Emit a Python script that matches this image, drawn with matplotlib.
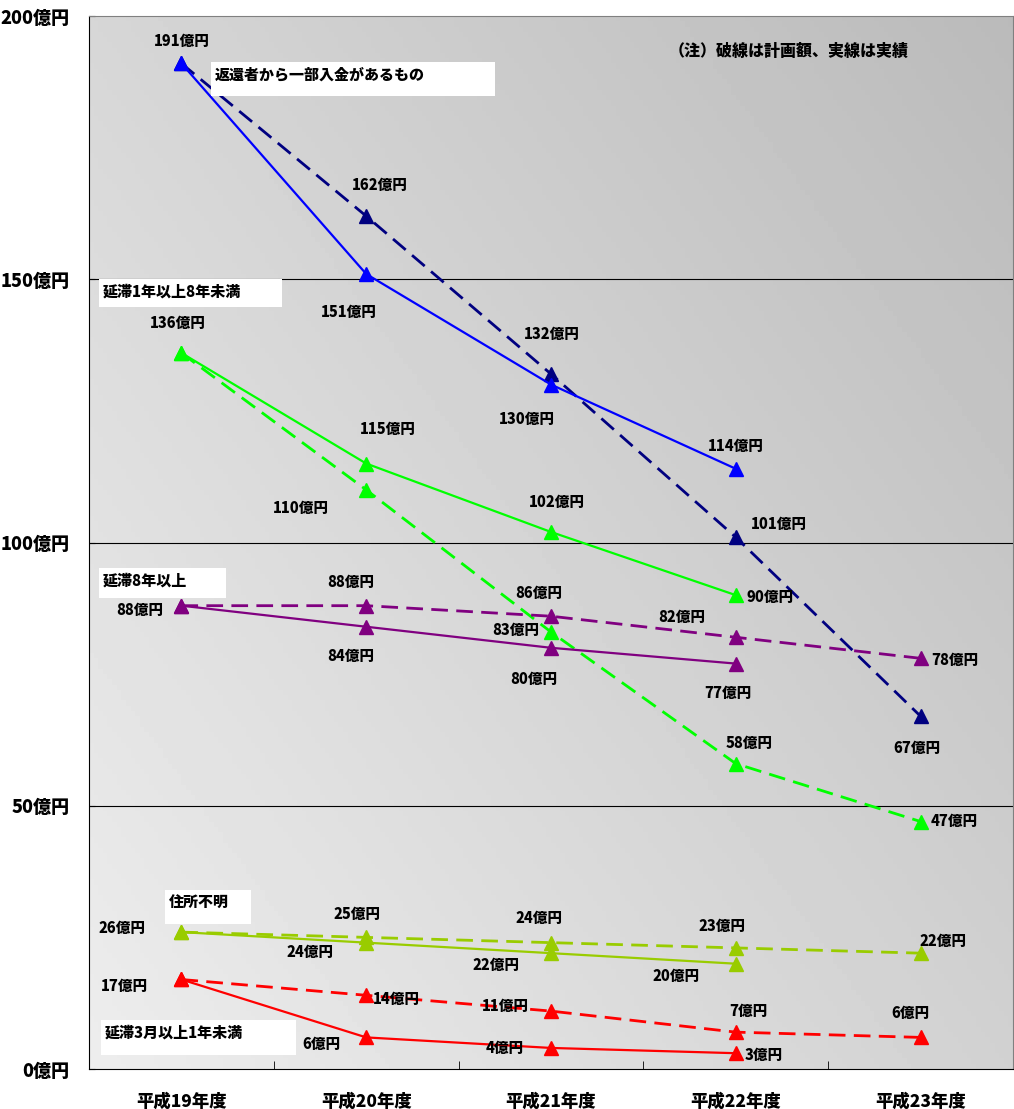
import numpy as np
import matplotlib
matplotlib.use("Agg")
import matplotlib.pyplot as plt
from matplotlib.patches import Rectangle

plt.rcParams['font.family'] = ['Noto Sans CJK JP', 'DejaVu Sans']

years = ["平成19年度", "平成20年度", "平成21年度", "平成22年度", "平成23年度"]

# 返還者から一部入金があるもの
part_plan = [191, 162, 132, 101, 67]
part_act = [191, 151, 130, 114]
# 延滞1年以上8年未満
y1_8_plan = [136, 110, 83, 58, 47]
y1_8_act = [136, 115, 102, 90]
# 延滞8年以上
y8_plan = [88, 88, 86, 82, 78]
y8_act = [88, 84, 80, 77]
# 住所不明
addr_plan = [26, 25, 24, 23, 22]
addr_act = [26, 24, 22, 20]
# 延滞3月以上1年未満
m3_plan = [17, 14, 11, 7, 6]
m3_act = [17, 6, 4, 3]

fig = plt.figure(figsize=(10.14, 11.09), dpi=100)
ax = fig.add_axes([89/1014, 1-1069/1109, 924/1014, 1053/1109])

# gradient background: light bottom-left -> dark top-right
gx, gy = np.meshgrid(np.linspace(0, 1, 200), np.linspace(0, 1, 200))
grad = 0.93 - 0.11 * gx - 0.09 * gy
ax.imshow(grad, extent=[-0.5, 4.5, 0, 200], origin="lower", cmap="gray",
          vmin=0, vmax=1, aspect="auto", zorder=0)

ax.set_xlim(-0.5, 4.5)
ax.set_ylim(0, 200)
for yv in [50, 100, 150]:
    ax.axhline(yv, color="black", lw=0.8, zorder=1)

W8 = "heavy"

def series(plan, act, cplan, cact):
    xs = np.arange(len(plan))
    ax.plot(xs, plan, color=cplan, lw=2, ls=(0, (6, 3)), marker="^",
            ms=10, zorder=3)
    xa = np.arange(len(act))
    ax.plot(xa, act, color=cact, lw=1.6, marker="^", ms=10, zorder=4)

series(part_plan, part_act, "#000080", "#0000ff")
series(y1_8_plan, y1_8_act, "#00ff00", "#00ff00")
series(y8_plan, y8_act, "#800080", "#800080")
series(addr_plan, addr_act, "#99cc00", "#99cc00")
series(m3_plan, m3_act, "#ff0000", "#ff0000")

def lab(x, v, dx, dy):
    ax.annotate(f"{v}億円", (x, v), xytext=(dx, -dy), textcoords="offset pixels",
                ha="center", va="center", fontsize=10.5, fontweight=W8, zorder=6)

# label offsets in pixels (dx, dy with dy down positive)
lab(0, part_plan[0], 0, -22)
lab(1, part_plan[1], 14, -31)
lab(1, part_act[1], -17, 38)
lab(2, part_plan[2], 1, -40)
lab(2, part_act[2], -24, 35)
lab(3, part_act[3], 0, -22)
lab(3, part_plan[3], 43, -13)
lab(4, part_plan[4], -4, 32)

lab(0, y1_8_plan[0], -4, -29)
lab(1, y1_8_act[1], 22, -34)
lab(1, y1_8_plan[1], -65, 19)
lab(2, y1_8_act[2], 6, -29)
lab(2, y1_8_plan[2], -35, -2)
lab(3, y1_8_act[3], 34, 2)
lab(3, y1_8_plan[3], 13, -20)
lab(4, y1_8_plan[4], 34, 0)

lab(0, y8_plan[0], -42, 5)
lab(1, y8_plan[1], -15, -23)
lab(1, y8_act[1], -15, 30)
lab(2, y8_plan[2], -12, -23)
lab(2, y8_act[2], -17, 32)
lab(3, y8_plan[3], -54, -20)
lab(3, y8_act[3], -8, 30)
lab(4, y8_plan[4], 34, 2)

lab(0, addr_plan[0], -59, -4)
lab(1, addr_plan[1], -9, -23)
lab(1, addr_act[1], -56, 10)
lab(2, addr_plan[2], -12, -24)
lab(2, addr_act[2], -55, 12)
lab(3, addr_plan[3], -14, -21)
lab(3, addr_act[3], -60, 13)
lab(4, addr_plan[4], 22, -12)

lab(0, m3_plan[0], -57, 7)
lab(1, m3_act[1], -45, 7)
lab(1, m3_plan[1], 30, 4)
lab(2, m3_plan[2], -46, -5)
lab(2, m3_act[2], -46, 1)
lab(3, m3_plan[3], 13, -21)
lab(3, m3_act[3], 28, 2)
lab(4, m3_plan[4], -10, -24)

# series name boxes (axes fraction)
def namebox(x0, y0, x1, y1, text):
    W, H = 924, 1053
    ax.add_patch(Rectangle(((x0-89)/W, 1-(y1-16)/H), (x1-x0)/W, (y1-y0)/H,
                           transform=ax.transAxes, facecolor="white",
                           edgecolor="none", zorder=5))
    ax.text((x0+4-89)/W, 1-(y0+13-16)/H, text, transform=ax.transAxes,
            ha="left", va="center", fontsize=10.8, fontweight=W8, zorder=6)

namebox(211, 62, 495, 96, "返還者から一部入金があるもの")
namebox(99, 279, 282, 307, "延滞1年以上8年未満")
namebox(99, 568, 226, 598, "延滞8年以上")
namebox(165, 890, 251, 924, "住所不明")
namebox(101, 1020, 296, 1055, "延滞3月以上1年未満")

ax.text((789-89)/924, 1-(51-16)/1053, "（注）破線は計画額、実線は実績",
        transform=ax.transAxes, ha="center", va="center", fontsize=11.5,
        fontweight=W8, zorder=6)

ax.set_yticks([0, 50, 100, 150, 200])
ax.set_yticklabels([f"{v}億円" for v in [0, 50, 100, 150, 200]],
                   fontsize=13, fontweight=W8)
ax.set_xticks(range(5))
ax.set_xticklabels(years, fontsize=12.5, fontweight=W8)
ax.set_xticks([0.5, 1.5, 2.5, 3.5], minor=True)
ax.tick_params(axis="x", which="major", length=0, pad=17)
ax.tick_params(axis="x", which="minor", length=6, direction="in")
ax.tick_params(axis="y", length=4, direction="in", pad=14)
ax.spines["top"].set_color("#808080")
ax.spines["right"].set_color("#808080")

fig.savefig("out.png", dpi=100)
